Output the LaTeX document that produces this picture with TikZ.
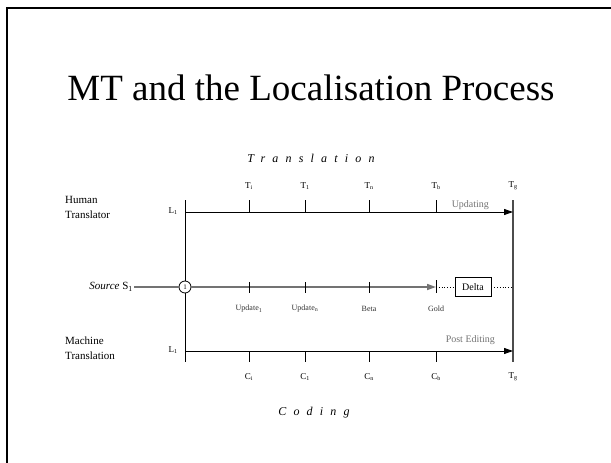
\documentclass[tikz,border=0pt]{standalone}
\usepackage{fontspec}
\setmainfont{Liberation Serif}
\usetikzlibrary{positioning,arrows.meta}

\begin{document}
\begin{tikzpicture}[x=1pt, y=-1pt,
  side/.style={font=\fontsize{11}{15}\selectfont, align=left, anchor=north west, inner sep=0pt},
  lab/.style={font=\fontsize{9}{10}\selectfont, inner sep=0pt},
  small/.style={font=\fontsize{8}{9}\selectfont, inner sep=0pt, text=black!80},
  note/.style={font=\fontsize{10}{12}\selectfont, inner sep=0pt, text=black!55},
  spaced/.style={font=\itshape\fontsize{12}{14}\selectfont\addfontfeature{LetterSpace=60}, inner sep=0pt},
  axis/.style={line width=0.9pt},
  arrow/.style={-{Triangle[length=9pt,width=6pt]}, line width=0.9pt},
  tick/.style={line width=0.9pt}
]
\useasboundingbox (0,0) rectangle (611,463);
% page frame
\draw[line width=2pt] (7,463) -- (7,8) -- (611,8);

\node[font=\fontsize{37}{40}\selectfont, anchor=base, inner sep=0pt] (title) at (311,100) {MT and the Localisation Process};
\node[spaced] (trans) at (311,158) {Translation};
\node[spaced] (coding) at (314,413) {Coding};

% side labels
\node[side] (human) at (65,196) {Human\\Translator};
\node[side] (machine) at (65,337) {Machine\\Translation};
\node[lab] (l1top) at (173,211) {L\textsubscript{1}};
\node[lab] (l1bot) at (173,350) {L\textsubscript{1}};

% time axes
\coordinate (ltop) at (185,200);
\coordinate (lbot) at (185,362);
\coordinate (rtop) at (513,200);
\coordinate (rbot) at (513,362);
\coordinate (hstart) at (185,212);
\coordinate (hend) at (513,212);
\coordinate (mstart) at (185,351);
\coordinate (mend) at (513,351);
\draw[axis] (ltop) -- (lbot);
\draw[line width=2pt, black!70] (rtop) -- (rbot);
\draw[arrow] (hstart) -- node[note, pos=0.87, yshift=7pt]{Updating} (hend);
\draw[arrow] (mstart) -- node[note, pos=0.87, yshift=11pt]{Post Editing} (mend);

% translation milestones
\node[lab] (ti) at (249,186) {T\textsubscript{i}};
\node[lab] (t1) at (305,186) {T\textsubscript{1}};
\node[lab] (tn) at (369,186) {T\textsubscript{n}};
\node[lab] (tb) at (436,186) {T\textsubscript{b}};
\node[lab] (tg) at (513,186) {T\textsubscript{g}};
\draw[tick] (249,200) -- (249,212);
\draw[tick] (305,200) -- (305,212);
\draw[tick] (369,200) -- (369,212);
\draw[tick] (436,200) -- (436,212);

% coding milestones
\node[lab] (ci) at (249,377) {C\textsubscript{i}};
\node[lab] (c1) at (305,377) {C\textsubscript{1}};
\node[lab] (cn) at (369,377) {C\textsubscript{n}};
\node[lab] (cb) at (436,377) {C\textsubscript{b}};
\node[lab] (tg2) at (513,377) {T\textsubscript{g}};
\draw[tick] (249,351) -- (249,362);
\draw[tick] (305,351) -- (305,362);
\draw[tick] (369,351) -- (369,362);
\draw[tick] (436,351) -- (436,362);

% source line
\node[font=\fontsize{11}{13}\selectfont, anchor=east, inner sep=1pt] (source) at (134,287) {\textit{Source} S\textsubscript{1}};
\node[circle, draw, fill=white, line width=0.8pt, minimum size=12pt, inner sep=0pt, font=\fontsize{7}{8}\selectfont] (start) at (185,287) {1};
\coordinate (gold) at (436,287);
\node[draw, line width=0.8pt, minimum width=36pt, minimum height=19pt, inner sep=0pt, font=\fontsize{10}{12}\selectfont] (delta) at (473,287) {Delta};
\draw[line width=1.6pt, black!55] (source) -- (start);
\draw[-{Triangle[length=9pt,width=6pt]}, line width=1.6pt, black!55] (start) -- (gold);
\draw[dotted, line width=0.8pt] (gold) -- (delta);
\draw[dotted, line width=0.8pt] (delta) -- (delta -| rtop);
\draw[tick] (249,282) -- (249,293);
\draw[tick] (305,282) -- (305,293);
\draw[tick] (369,282) -- (369,293);
\draw[tick] (436,280) -- (436,293);
\node[small] (u1) at (249,309) {Update\textsubscript{1}};
\node[small] (un) at (305,309) {Update\textsubscript{n}};
\node[small] (beta) at (369,309) {Beta};
\node[small] (goldl) at (436,309) {Gold};
\end{tikzpicture}
\end{document}
